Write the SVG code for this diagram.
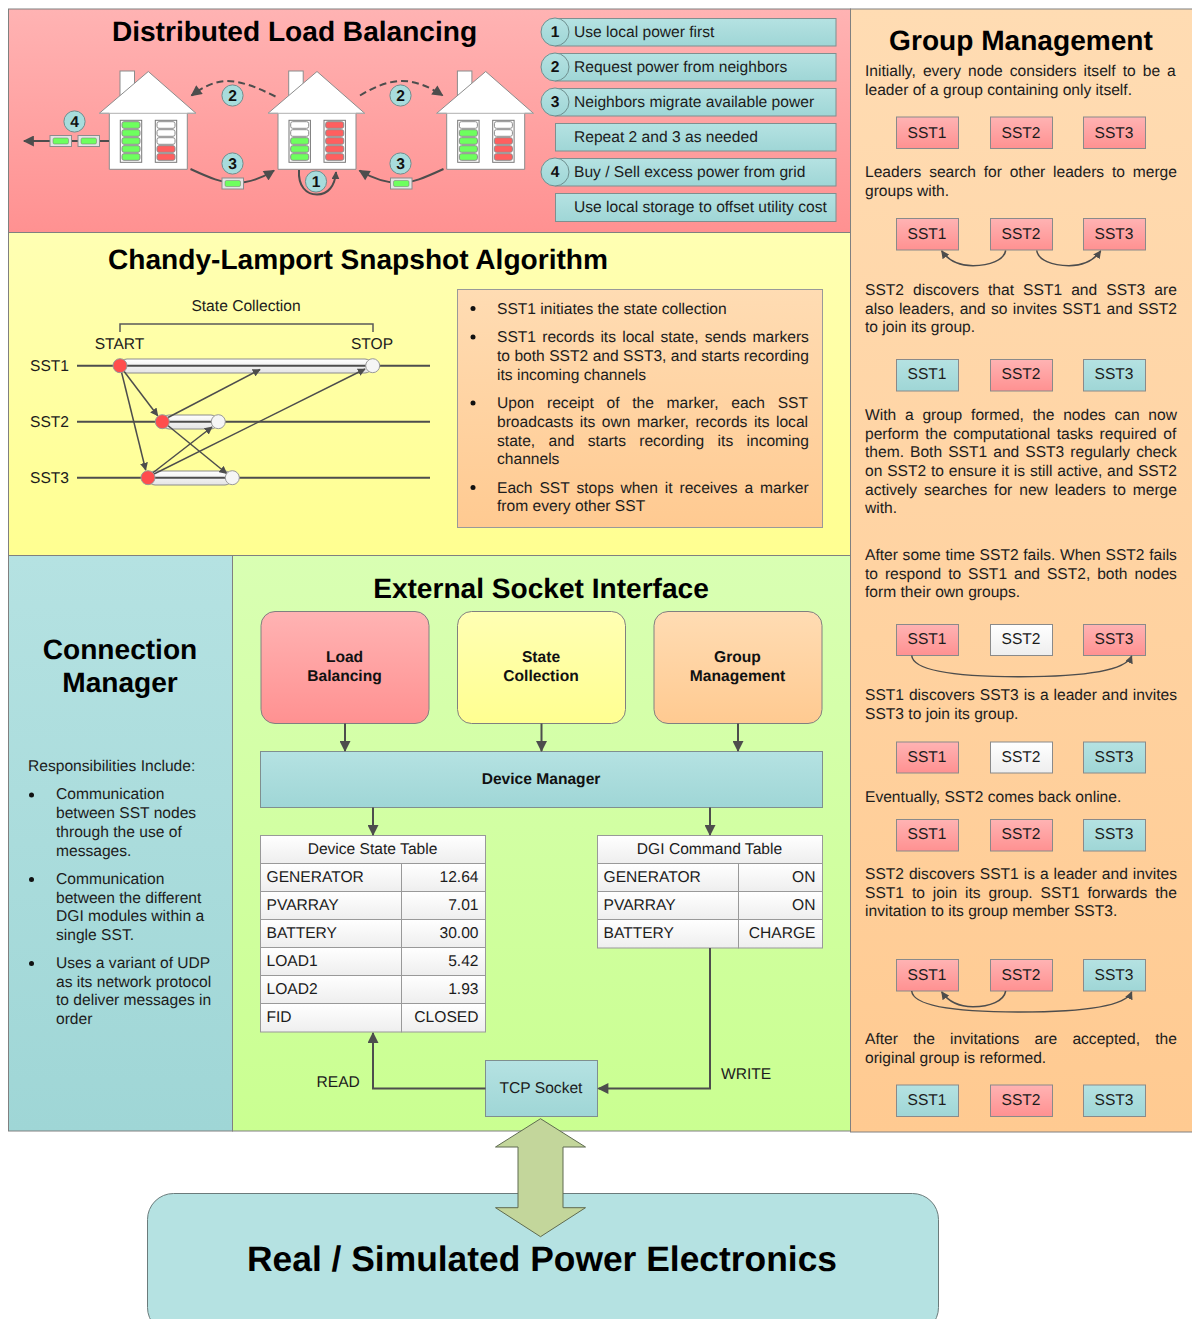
<svg xmlns="http://www.w3.org/2000/svg" width="1192" height="1319" viewBox="0 0 1192 1319">
<style>
text{font-family:"Liberation Sans",Arial,sans-serif;font-size:15.6px;fill:#1c1c1c;text-rendering:geometricPrecision}
.t{font-weight:bold;font-size:28.1px;fill:#000;text-anchor:middle}
.b{font-weight:bold;text-anchor:middle;fill:#111}
.m{text-anchor:middle}
.e{text-anchor:end}
.p{stroke:#808080;stroke-width:1}
.c{stroke:#8a8a8a;stroke-width:1}
.k{fill:none;stroke:#4d4d4d;stroke-width:2}
.s{fill:none;stroke:#4d4d4d;stroke-width:1.5}
.n{fill:url(#teal);stroke:#7f8f8f;stroke-width:1}
.hw{fill:#fff;stroke:#8c8c8c;stroke-width:1}
</style>
<defs>
<linearGradient id="pink" x1="0" y1="0" x2="0" y2="1"><stop offset="0" stop-color="#ffb3b3"/><stop offset="1" stop-color="#ff9191"/></linearGradient>
<linearGradient id="yellow" x1="0" y1="0" x2="0" y2="1"><stop offset="0" stop-color="#ffffb3"/><stop offset="1" stop-color="#ffff91"/></linearGradient>
<linearGradient id="orange" x1="0" y1="0" x2="0" y2="1"><stop offset="0" stop-color="#ffdcb3"/><stop offset="1" stop-color="#ffca91"/></linearGradient>
<linearGradient id="teal" x1="0" y1="0" x2="0" y2="1"><stop offset="0" stop-color="#b5e2e2"/><stop offset="1" stop-color="#9fd6d6"/></linearGradient>
<linearGradient id="green" x1="0" y1="0" x2="0" y2="1"><stop offset="0" stop-color="#d9ffb3"/><stop offset="1" stop-color="#caff91"/></linearGradient>
<linearGradient id="white" x1="0" y1="0" x2="0" y2="1"><stop offset="0" stop-color="#ffffff"/><stop offset="1" stop-color="#eeeeee"/></linearGradient>
<linearGradient id="bar" x1="0" y1="0" x2="0" y2="1"><stop offset="0" stop-color="#ffffff"/><stop offset="1" stop-color="#e4e4e4"/></linearGradient>
<marker id="a12" viewBox="0 0 10 10" refX="9" refY="5" markerWidth="12" markerHeight="11" orient="auto" markerUnits="userSpaceOnUse"><path d="M0 0L10 5L0 10z" fill="#4d4d4d"/></marker>
<marker id="a7" viewBox="0 0 10 10" refX="9" refY="5" markerWidth="8" markerHeight="8" orient="auto" markerUnits="userSpaceOnUse"><path d="M0 0L10 5L0 10z" fill="#4d4d4d"/></marker>
<g id="cg"><rect width="18" height="6.6" rx="2" fill="#6eff5e" stroke="#8c8c8c" stroke-width="1"/></g>
<g id="cr"><rect width="18" height="6.6" rx="2" fill="#ff5f5f" stroke="#8c8c8c" stroke-width="1"/></g>
<g id="cw"><rect width="18" height="6.6" rx="2" fill="#fff" stroke="#8c8c8c" stroke-width="1"/></g>
<g id="house">
<rect x="120" y="71" width="14.5" height="30" class="hw"/>
<path d="M99.3 113.3L148.3 71.5L196 113.3H187.3V169.3H109.3V113.3Z" class="hw"/>
<path d="M99.3 113.3H196" stroke="#b0b0b0" fill="none"/>
<rect x="120.3" y="120.3" width="21.4" height="42" fill="#fff" stroke="#777"/>
<rect x="155.3" y="120.3" width="21.4" height="42" fill="#fff" stroke="#777"/>
</g>
<g id="pkt"><rect width="21.5" height="11" fill="#e4e4e4" stroke="#8c8c8c"/><rect x="3" y="2.5" width="15.5" height="6" rx="1.5" fill="#6eff5e" stroke="#777" stroke-width=".5"/></g>
<circle id="badge" r="10.6" fill="#a8dcdc" stroke="#6f8f8f" stroke-width="1"/>
</defs>

<g id="panel-load"><rect x="8.500" y="9" width="842" height="223.500" fill="url(#pink)" class="p"/>
<text class="t" x="294.500" y="41">Distributed Load Balancing</text></g>
<g id="panel-snapshot"><rect x="8.500" y="232.500" width="842" height="323" fill="url(#yellow)" class="p"/>
<text class="t" x="358" y="269">Chandy-Lamport Snapshot Algorithm</text></g>
<g id="panel-group"><rect x="850.500" y="9" width="342" height="1123" fill="url(#orange)" class="p"/>
<text class="t" x="1021" y="50">Group Management</text></g>
<g id="panel-connection"><rect x="8.500" y="555.500" width="224" height="575.500" fill="url(#teal)" class="p"/>
<text class="t" x="120" y="659">Connection</text><text class="t" x="120" y="692">Manager</text>
<circle cx="31.500" cy="795" r="2.500" fill="#111"/><circle cx="31.500" cy="879.500" r="2.500" fill="#111"/><circle cx="31.500" cy="963.500" r="2.500" fill="#111"/>
<g transform="translate(0 -.6)"><text x="28" y="772">Responsibilities Include:</text>
<text x="56" y="800">Communication</text><text x="56" y="819">between SST nodes</text><text x="56" y="837.500">through the use of</text><text x="56" y="856.500">messages.</text>
<text x="56" y="885">Communication</text><text x="56" y="903.500">between the different</text><text x="56" y="922">DGI modules within a</text><text x="56" y="941">single SST.</text>
<text x="56" y="969">Uses a variant of UDP</text><text x="56" y="988">as its network protocol</text><text x="56" y="1006">to deliver messages in</text><text x="56" y="1025">order</text></g></g>
<g id="panel-external"><rect x="232.500" y="555.500" width="618" height="575.500" fill="url(#green)" class="p"/>
<text class="t" x="541" y="598">External Socket Interface</text></g>

<g id="house1"><use href="#house"/>
<use href="#cg" x="122" y="121.700"/><use href="#cg" x="122" y="129.700"/><use href="#cg" x="122" y="137.700"/><use href="#cg" x="122" y="145.700"/><use href="#cg" x="122" y="153.700"/>
<use href="#cw" x="157" y="121.700"/><use href="#cw" x="157" y="129.700"/><use href="#cw" x="157" y="137.700"/><use href="#cr" x="157" y="145.700"/><use href="#cr" x="157" y="153.700"/></g>
<g id="house2" transform="translate(168.700 0)"><use href="#house"/>
<use href="#cw" x="122" y="121.700"/><use href="#cw" x="122" y="129.700"/><use href="#cg" x="122" y="137.700"/><use href="#cg" x="122" y="145.700"/><use href="#cg" x="122" y="153.700"/>
<use href="#cr" x="157" y="121.700"/><use href="#cr" x="157" y="129.700"/><use href="#cr" x="157" y="137.700"/><use href="#cr" x="157" y="145.700"/><use href="#cr" x="157" y="153.700"/></g>
<g id="house3" transform="translate(337.400 0)"><use href="#house"/>
<use href="#cw" x="122" y="121.700"/><use href="#cg" x="122" y="129.700"/><use href="#cg" x="122" y="137.700"/><use href="#cg" x="122" y="145.700"/><use href="#cg" x="122" y="153.700"/>
<use href="#cw" x="157" y="121.700"/><use href="#cw" x="157" y="129.700"/><use href="#cr" x="157" y="137.700"/><use href="#cr" x="157" y="145.700"/><use href="#cr" x="157" y="153.700"/></g>

<g id="load-connectors">
<path class="k" d="M109 141H24" marker-end="url(#a12)"/>
<path class="k" d="M190.500 169C210 178 222 183 235 183C250 183 262 178 274 170.500" marker-end="url(#a12)"/>
<path class="k" d="M443.500 169C424 178 412 183 400 183C385 183 372 178 359.500 170.500" marker-end="url(#a12)"/>
<path class="k" d="M299 170C298 186 306 194.500 317 194.500C328 194.500 335 186 336 172" marker-end="url(#a7)"/>
<path class="k" stroke-dasharray="7 4" d="M275.500 96.500C258 88 242 81 227 81C215 81 203 87 191.500 95.500" marker-end="url(#a12)"/>
<path class="k" stroke-dasharray="7 4" d="M360 95.500C374 87 388 81 402 81C416 81 430 87 442.500 95.500" marker-end="url(#a12)"/>
</g>
<g id="load-tokens"><use href="#pkt" x="50" y="135.500"/><use href="#pkt" x="78" y="135.500"/><use href="#pkt" x="222" y="178"/><use href="#pkt" x="390.500" y="178"/></g>
<g id="load-badges">
<use href="#badge" x="74.500" y="121.500"/><text class="b" x="74.500" y="127">4</text>
<use href="#badge" x="232.500" y="95.500"/><text class="b" x="232.500" y="101">2</text>
<use href="#badge" x="400.500" y="95.500"/><text class="b" x="400.500" y="101">2</text>
<use href="#badge" x="232.500" y="163.500"/><text class="b" x="232.500" y="169">3</text>
<use href="#badge" x="400.500" y="163.500"/><text class="b" x="400.500" y="169">3</text>
<use href="#badge" x="316" y="181.500"/><text class="b" x="316" y="187">1</text>
</g>

<g id="legend">
<g id="step1"><rect class="n" x="555.500" y="18.500" width="280.500" height="27.500"/><circle cx="555" cy="32" r="14" fill="url(#teal)" stroke="#6f8f8f"/><text class="b" x="555" y="37">1</text><text x="574" y="36.600">Use local power first</text></g>
<g id="step2"><rect class="n" x="555.500" y="53.500" width="280.500" height="27.500"/><circle cx="555" cy="67" r="14" fill="url(#teal)" stroke="#6f8f8f"/><text class="b" x="555" y="72">2</text><text x="574" y="71.600">Request power from neighbors</text></g>
<g id="step3"><rect class="n" x="555.500" y="88.500" width="280.500" height="27.500"/><circle cx="555" cy="102" r="14" fill="url(#teal)" stroke="#6f8f8f"/><text class="b" x="555" y="107">3</text><text x="574" y="106.600">Neighbors migrate available power</text></g>
<g id="step-repeat"><rect class="n" x="555.500" y="123.500" width="280.500" height="27.500"/><text x="574" y="141.600">Repeat 2 and 3 as needed</text></g>
<g id="step4"><rect class="n" x="555.500" y="158.500" width="280.500" height="27.500"/><circle cx="555" cy="172" r="14" fill="url(#teal)" stroke="#6f8f8f"/><text class="b" x="555" y="177">4</text><text x="574" y="176.600">Buy / Sell excess power from grid</text></g>
<g id="step-storage"><rect class="n" x="555.500" y="193.500" width="280.500" height="28"/><text x="574" y="212">Use local storage to offset utility cost</text></g>
</g>

<g id="timeline">
<text class="m" x="246" y="310.500">State Collection</text>
<text class="m" x="119.500" y="349">START</text><text class="m" x="372" y="349">STOP</text>
<text x="30" y="370.500">SST1</text><text x="30" y="426.500">SST2</text><text x="30" y="482.500">SST3</text>
<path d="M120 332V324H373V332" fill="none" stroke="#595959" stroke-width="1.500"/>
<rect x="120" y="359" width="252" height="14" rx="7" fill="url(#bar)" stroke="#8c8c8c"/>
<rect x="162" y="415" width="56" height="14" rx="7" fill="url(#bar)" stroke="#8c8c8c"/>
<rect x="148" y="471" width="84" height="14" rx="7" fill="url(#bar)" stroke="#8c8c8c"/>
<path class="k" d="M77 365.700H430M77 421.700H430M77 477.700H430"/>
<path class="s" d="M120 366L157.700 415.700" marker-end="url(#a7)"/>
<path class="s" d="M121 370L145.700 470" marker-end="url(#a7)"/>
<path class="s" d="M168 417.500L260 369.500" marker-end="url(#a7)"/>
<path class="s" d="M166 424L226.700 473.500" marker-end="url(#a7)"/>
<path class="s" d="M150 475L212 427" marker-end="url(#a7)"/>
<path class="s" d="M150 476L365 369" marker-end="url(#a7)"/>
<circle cx="120" cy="365.700" r="7" fill="#ff4d4d" stroke="#999"/><circle cx="372.700" cy="365.700" r="7" fill="#f5f5f5" stroke="#999"/>
<circle cx="162.300" cy="421.700" r="7" fill="#ff4d4d" stroke="#999"/><circle cx="218.300" cy="421.700" r="7" fill="#f5f5f5" stroke="#999"/>
<circle cx="148" cy="477.700" r="7" fill="#ff4d4d" stroke="#999"/><circle cx="232.300" cy="477.700" r="7" fill="#f5f5f5" stroke="#999"/>
</g>

<g id="snapshot-notes"><rect x="457.500" y="289.500" width="365" height="238" fill="url(#orange)" stroke="#999"/>
<circle cx="473" cy="308.500" r="2.500" fill="#111"/><circle cx="473" cy="337" r="2.500" fill="#111"/><circle cx="473" cy="403" r="2.500" fill="#111"/><circle cx="473" cy="487.500" r="2.500" fill="#111"/>
<g transform="translate(0 -.5)"><text x="497" y="314">SST1 initiates the state collection</text>
<text x="497" y="342.500" style="word-spacing:1.86px">SST1 records its local state, sends markers</text>
<text x="497" y="361.500" style="word-spacing:.1px">to both SST2 and SST3, and starts recording</text>
<text x="497" y="380">its incoming channels</text>
<text x="497" y="408.500" style="word-spacing:8.36px">Upon receipt of the marker, each SST</text>
<text x="497" y="427.500" style="word-spacing:2.15px">broadcasts its own marker, records its local</text>
<text x="497" y="446" style="word-spacing:8.99px">state, and starts recording its incoming</text>
<text x="497" y="464.500">channels</text>
<text x="497" y="493" style="word-spacing:2.58px">Each SST stops when it receives a marker</text>
<text x="497" y="511.500">from every other SST</text></g>
</g>

<g id="group-text" transform="translate(0 -.7)">
<text x="865" y="76.500" style="word-spacing:2.71px">Initially, every node considers itself to be a</text>
<text x="865" y="95.500">leader of a group containing only itself.</text>
<text x="865" y="177.500" style="word-spacing:3.45px">Leaders search for other leaders to merge</text>
<text x="865" y="196.500">groups with.</text>
<text x="865" y="295.500" style="word-spacing:4.74px">SST2 discovers that SST1 and SST3 are</text>
<text x="865" y="314.500" style="word-spacing:.97px">also leaders, and so invites SST1 and SST2</text>
<text x="865" y="332.500">to join its group.</text>
<text x="865" y="420.500" style="word-spacing:4.44px">With a group formed, the nodes can now</text>
<text x="865" y="439.500" style="word-spacing:2.09px">perform the computational tasks required of</text>
<text x="865" y="457.500" style="word-spacing:1.71px">them. Both SST1 and SST3 regularly check</text>
<text x="865" y="476.500" style="word-spacing:.47px">on SST2 to ensure it is still active, and SST2</text>
<text x="865" y="495.500" style="word-spacing:2.59px">actively searches for new leaders to merge</text>
<text x="865" y="513.500">with.</text>
<text x="865" y="560.500" style="word-spacing:.36px">After some time SST2 fails. When SST2 fails</text>
<text x="865" y="579.500" style="word-spacing:2.57px">to respond to SST1 and SST2, both nodes</text>
<text x="865" y="598">form their own groups.</text>
<text x="865" y="701" style="word-spacing:.61px">SST1 discovers SST3 is a leader and invites</text>
<text x="865" y="719.500">SST3 to join its group.</text>
<text x="865" y="802.500">Eventually, SST2 comes back online.</text>
<text x="865" y="879.500" style="word-spacing:.61px">SST2 discovers SST1 is a leader and invites</text>
<text x="865" y="898.500" style="word-spacing:3.57px">SST1 to join its group. SST1 forwards the</text>
<text x="865" y="917">invitation to its group member SST3.</text>
<text x="865" y="1044.500" style="word-spacing:10.89px">After the invitations are accepted, the</text>
<text x="865" y="1063.500">original group is reformed.</text>
</g>

<g id="group-nodes">
<g id="r1"><rect x="896.500" y="117" width="62" height="31.500" fill="url(#pink)" class="c"/><text class="m" x="927" y="137.500">SST1</text><rect x="990.500" y="117" width="62" height="31.500" fill="url(#pink)" class="c"/><text class="m" x="1021" y="137.500">SST2</text><rect x="1083.500" y="117" width="62" height="31.500" fill="url(#pink)" class="c"/><text class="m" x="1114" y="137.500">SST3</text></g>
<g id="r2"><rect x="896.500" y="218.500" width="62" height="31.500" fill="url(#pink)" class="c"/><text class="m" x="927" y="238.500">SST1</text><rect x="990.500" y="218.500" width="62" height="31.500" fill="url(#pink)" class="c"/><text class="m" x="1021" y="238.500">SST2</text><rect x="1083.500" y="218.500" width="62" height="31.500" fill="url(#pink)" class="c"/><text class="m" x="1114" y="238.500">SST3</text></g>
<g id="r3"><rect x="896.500" y="359.500" width="62" height="31.500" fill="url(#teal)" class="c"/><text class="m" x="927" y="379">SST1</text><rect x="990.500" y="359.500" width="62" height="31.500" fill="url(#pink)" class="c"/><text class="m" x="1021" y="379">SST2</text><rect x="1083.500" y="359.500" width="62" height="31.500" fill="url(#teal)" class="c"/><text class="m" x="1114" y="379">SST3</text></g>
<g id="r4"><rect x="896.500" y="624.500" width="62" height="31" fill="url(#pink)" class="c"/><text class="m" x="927" y="644">SST1</text><rect x="990.500" y="624.500" width="62" height="31" fill="url(#white)" class="c"/><text class="m" x="1021" y="644">SST2</text><rect x="1083.500" y="624.500" width="62" height="31" fill="url(#pink)" class="c"/><text class="m" x="1114" y="644">SST3</text></g>
<g id="r5"><rect x="896.500" y="742" width="62" height="31" fill="url(#pink)" class="c"/><text class="m" x="927" y="761.500">SST1</text><rect x="990.500" y="742" width="62" height="31" fill="url(#white)" class="c"/><text class="m" x="1021" y="761.500">SST2</text><rect x="1083.500" y="742" width="62" height="31" fill="url(#teal)" class="c"/><text class="m" x="1114" y="761.500">SST3</text></g>
<g id="r6"><rect x="896.500" y="819.500" width="62" height="31.500" fill="url(#pink)" class="c"/><text class="m" x="927" y="839">SST1</text><rect x="990.500" y="819.500" width="62" height="31.500" fill="url(#pink)" class="c"/><text class="m" x="1021" y="839">SST2</text><rect x="1083.500" y="819.500" width="62" height="31.500" fill="url(#teal)" class="c"/><text class="m" x="1114" y="839">SST3</text></g>
<g id="r7"><rect x="896.500" y="959.500" width="62" height="31.500" fill="url(#pink)" class="c"/><text class="m" x="927" y="979.500">SST1</text><rect x="990.500" y="959.500" width="62" height="31.500" fill="url(#pink)" class="c"/><text class="m" x="1021" y="979.500">SST2</text><rect x="1083.500" y="959.500" width="62" height="31.500" fill="url(#teal)" class="c"/><text class="m" x="1114" y="979.500">SST3</text></g>
<g id="r8"><rect x="896.500" y="1085" width="62" height="31.500" fill="url(#teal)" class="c"/><text class="m" x="927" y="1104.500">SST1</text><rect x="990.500" y="1085" width="62" height="31.500" fill="url(#pink)" class="c"/><text class="m" x="1021" y="1104.500">SST2</text><rect x="1083.500" y="1085" width="62" height="31.500" fill="url(#teal)" class="c"/><text class="m" x="1114" y="1104.500">SST3</text></g>
</g>
<g id="group-connectors">
<path class="s" d="M1005.700 250.500C1004 260 990 265.700 973 265.700C957 265.700 948 260 941.700 251" marker-end="url(#a7)"/>
<path class="s" d="M1036.700 250.500C1038 260 1052 265.700 1069 265.700C1085 265.700 1094 260 1100.700 251" marker-end="url(#a7)"/>
<path class="s" d="M911.700 655.500C913 670 950 676.700 1020 676.700C1090 676.700 1126 670 1131.700 656" marker-end="url(#a7)"/>
<path class="s" d="M911.700 991C913 1005 950 1012 1020 1012C1090 1012 1126 1005 1131.700 992" marker-end="url(#a7)"/>
<path class="s" d="M1005.700 991C1004 1001 990 1006.700 973 1006.700C957 1006.700 948 1001 941.700 992" marker-end="url(#a7)"/>
</g>

<g id="node-load"><rect x="261" y="611.500" width="168" height="112" rx="14" fill="url(#pink)" stroke="#808080"/><text class="b" x="344.500" y="662">Load</text><text class="b" x="344.500" y="680.500">Balancing</text></g>
<g id="node-state"><rect x="457.500" y="611.500" width="168" height="112" rx="14" fill="url(#yellow)" stroke="#808080"/><text class="b" x="541" y="662">State</text><text class="b" x="541" y="680.500">Collection</text></g>
<g id="node-group"><rect x="654" y="611.500" width="168" height="112" rx="14" fill="url(#orange)" stroke="#808080"/><text class="b" x="737.500" y="662">Group</text><text class="b" x="737.500" y="680.500">Management</text></g>
<g id="node-device"><rect x="260.500" y="751.500" width="562" height="56" class="n"/><text class="b" x="541" y="784">Device Manager</text></g>

<g id="node-state-table" fill="url(#white)" stroke="#999">
<rect x="260.500" y="835.500" width="225" height="28"/><rect x="260.500" y="863.500" width="141" height="28"/><rect x="401.500" y="863.500" width="84" height="28"/><rect x="260.500" y="891.500" width="141" height="28"/><rect x="401.500" y="891.500" width="84" height="28"/><rect x="260.500" y="919.500" width="141" height="28"/><rect x="401.500" y="919.500" width="84" height="28"/><rect x="260.500" y="947.500" width="141" height="28"/><rect x="401.500" y="947.500" width="84" height="28"/><rect x="260.500" y="975.500" width="141" height="28"/><rect x="401.500" y="975.500" width="84" height="28"/><rect x="260.500" y="1003.500" width="141" height="28.500"/><rect x="401.500" y="1003.500" width="84" height="28.500"/>
<g stroke="none"><text class="m" x="372.500" y="854">Device State Table</text>
<text x="266.500" y="882">GENERATOR</text><text class="e" x="478.500" y="882">12.64</text>
<text x="266.500" y="910">PVARRAY</text><text class="e" x="478.500" y="910">7.01</text>
<text x="266.500" y="938">BATTERY</text><text class="e" x="478.500" y="938">30.00</text>
<text x="266.500" y="966">LOAD1</text><text class="e" x="478.500" y="966">5.42</text>
<text x="266.500" y="994">LOAD2</text><text class="e" x="478.500" y="994">1.93</text>
<text x="266.500" y="1022">FID</text><text class="e" x="478.500" y="1022">CLOSED</text></g></g>
<g id="node-command-table" fill="url(#white)" stroke="#999">
<rect x="597.500" y="835.500" width="225" height="28"/><rect x="597.500" y="863.500" width="141" height="28"/><rect x="738.500" y="863.500" width="84" height="28"/><rect x="597.500" y="891.500" width="141" height="28"/><rect x="738.500" y="891.500" width="84" height="28"/><rect x="597.500" y="919.500" width="141" height="28.500"/><rect x="738.500" y="919.500" width="84" height="28.500"/>
<g stroke="none"><text class="m" x="709.500" y="854">DGI Command Table</text>
<text x="603.500" y="882">GENERATOR</text><text class="e" x="815.500" y="882">ON</text>
<text x="603.500" y="910">PVARRAY</text><text class="e" x="815.500" y="910">ON</text>
<text x="603.500" y="938">BATTERY</text><text class="e" x="815.500" y="938">CHARGE</text></g></g>
<g id="node-tcp"><rect x="485.500" y="1060.500" width="112" height="56" class="n"/><text class="m" x="541" y="1092.500">TCP Socket</text></g>

<g id="connectors">
<path class="k" d="M345 723.500V751" marker-end="url(#a12)"/>
<path class="k" d="M541.500 723.500V751" marker-end="url(#a12)"/>
<path class="k" d="M738 723.500V751" marker-end="url(#a12)"/>
<path class="k" d="M373 807.500V835" marker-end="url(#a12)"/>
<path class="k" d="M710 807.500V835" marker-end="url(#a12)"/>
<path class="k" d="M485.500 1088.500H373V1033" marker-end="url(#a12)"/>
<path class="k" d="M710 948V1088.500H598.500" marker-end="url(#a12)"/>
<text x="316.500" y="1086.500">READ</text><text x="721" y="1078.500">WRITE</text>
</g>

<g id="node-power"><rect x="147.500" y="1193.500" width="791" height="140" rx="26" fill="#b5e2e2" stroke="#6b7b7b"/><text class="t" style="font-size:35.4px" x="542" y="1270.500">Real / Simulated Power Electronics</text></g>
<path id="link-power" d="M540.500 1118.700L585.500 1147H563V1207.700H585.500L540.500 1236.700L495.500 1207.700H518V1147H495.500Z" fill="#c3d69b" stroke="#5f6b50"/>
</svg>
